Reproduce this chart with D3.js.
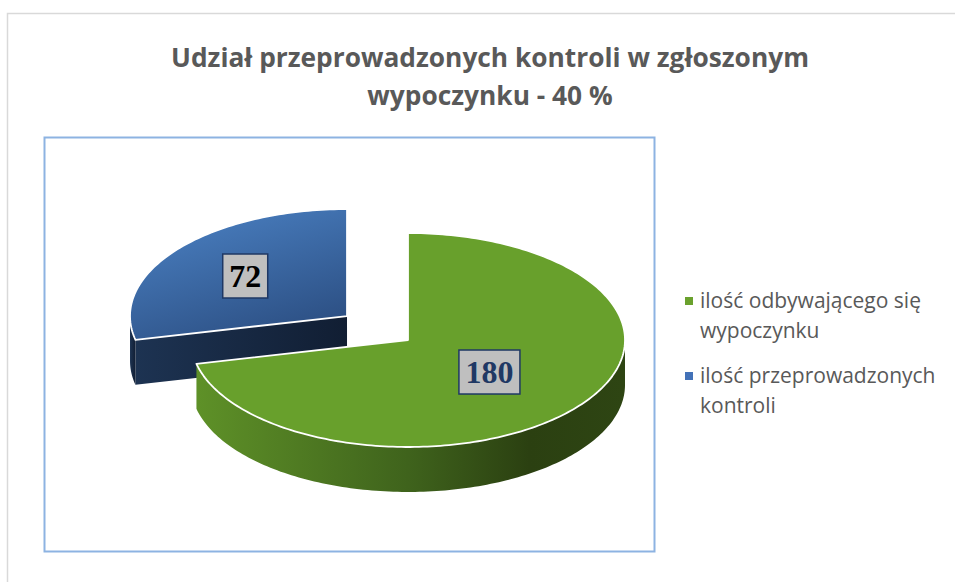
<!DOCTYPE html>
<html>
<head>
<meta charset="utf-8">
<script src="https://cdn.jsdelivr.net/npm/d3@7"></script>
<style>
  body { margin: 0; background: #fff; }
  svg { display: block; }
</style>
</head>
<body>
<svg id="drawing_region"></svg>
<script>
// data
const categories = ['ilość odbywającego się wypoczynku', 'ilość przeprowadzonych kontroli'];
const values = [180, 72];
const legendLines = [['ilość odbywającego się', 'wypoczynku'], ['ilość przeprowadzonych', 'kontroli']];
const titleLines = ['Udział przeprowadzonych kontroli w zgłoszonym', 'wypoczynku - 40 %'];

const config = {
    width: 955, height: 582,
    cx: 408, cy: 340, rx: 217, tilt: 0.493, depth: 45,
    explode: [0, 78],
    labelR: [0.48, 0.6]
};

const topColor = ['#68a02c', null];
const labelColor = ['#1f3864', '#000000'];

const svg = d3.select('#drawing_region')
    .attr('width', config.width)
    .attr('height', config.height);

const defs = svg.append('defs');

// green side gradient
const gg = defs.append('linearGradient').attr('id', 'gside0')
    .attr('gradientUnits', 'userSpaceOnUse')
    .attr('x1', config.cx - config.rx).attr('x2', config.cx + config.rx)
    .attr('y1', 0).attr('y2', 0);
[[0, '#5f9228'], [0.5, '#3f631c'], [0.78, '#2b4011'], [1, '#2e4513']]
    .forEach(s => gg.append('stop').attr('offset', s[0]).attr('stop-color', s[1]));

// blue top gradient
const bt = defs.append('linearGradient').attr('id', 'btop')
    .attr('x1', 0.2).attr('y1', 0).attr('x2', 0.7).attr('y2', 1);
[[0, '#4a80c2'], [1, '#2c4f83']]
    .forEach(s => bt.append('stop').attr('offset', s[0]).attr('stop-color', s[1]));

// blue side gradient
const bs = defs.append('linearGradient').attr('id', 'gside1')
    .attr('x1', 0).attr('y1', 0).attr('x2', 1).attr('y2', 0);
[[0, '#1d3352'], [1, '#111e33']]
    .forEach(s => bs.append('stop').attr('offset', s[0]).attr('stop-color', s[1]));

// outer chart frame
svg.append('path')
    .attr('d', `M7.5,${config.height} V13.5 H${config.width}`)
    .attr('fill', 'none')
    .attr('stroke', '#d9d9d9')
    .attr('stroke-width', 1.5);

// plot area frame
svg.append('rect')
    .attr('x', 44.5).attr('y', 137.5)
    .attr('width', 610).attr('height', 414)
    .attr('fill', 'none')
    .attr('stroke', '#8db3e2')
    .attr('stroke-width', 2);

// title
svg.append('g').selectAll('text')
    .data(titleLines)
    .join('text')
    .attr('x', 490)
    .attr('y', (d, i) => 67 + i * 38)
    .attr('text-anchor', 'middle')
    .attr('font-family', '"Open Sans", sans-serif')
    .attr('font-weight', 'bold')
    .attr('font-size', 26.3)
    .attr('fill', '#595959')
    .text(d => d);

// pie
const pie = d3.pie().sort(null).value(d => d)(values);

const rScale = d3.scaleLinear().domain([0, 1]).range([0, config.rx]);

function point(a, r, ox, oy, dz) {
    return [ox + r * Math.sin(a), oy - r * Math.cos(a) * config.tilt + dz];
}

function arcPoints(a0, a1, r, ox, oy, dz) {
    const n = Math.max(2, Math.ceil((a1 - a0) / 0.02));
    return d3.range(n + 1).map(i => point(a0 + (a1 - a0) * i / n, r, ox, oy, dz));
}

const line = d3.line();

const slices = pie.map((p, i) => {
    const mid = (p.startAngle + p.endAngle) / 2;
    const e = config.explode[i];
    const ox = config.cx + e * Math.sin(mid);
    const oy = config.cy - e * Math.cos(mid) * config.tilt;
    return { p, i, mid, ox, oy };
}).sort((a, b) => a.oy - b.oy);

const pieG = svg.append('g');
const R = rScale(1);

slices.forEach(s => {
    const { p, i, ox, oy } = s;
    const a0 = p.startAngle, a1 = p.endAngle;
    const g = pieG.append('g');
    const sideFill = `url(#gside${i})`;

    // radial face at start angle
    if (Math.sin(a0) < -0.01) {
        const pts = [point(a0, 0, ox, oy, 0), point(a0, R, ox, oy, 0),
                     point(a0, R, ox, oy, config.depth), point(a0, 0, ox, oy, config.depth)];
        g.append('path').attr('d', line(pts) + 'Z').attr('fill', sideFill);
    }
    // radial face at end angle
    if (Math.sin(a1) > 0.01) {
        const pts = [point(a1, 0, ox, oy, 0), point(a1, R, ox, oy, 0),
                     point(a1, R, ox, oy, config.depth), point(a1, 0, ox, oy, config.depth)];
        g.append('path').attr('d', line(pts) + 'Z').attr('fill', sideFill);
    }
    // outer wall (front half only)
    const w0 = Math.max(a0, Math.PI / 2), w1 = Math.min(a1, 3 * Math.PI / 2);
    if (w1 > w0) {
        const pts = arcPoints(w0, w1, R, ox, oy, 0)
            .concat(arcPoints(w0, w1, R, ox, oy, config.depth).reverse());
        g.append('path').attr('d', line(pts) + 'Z').attr('fill', sideFill);
    }
    // top face
    const top = [point(0, 0, ox, oy, 0)].concat(arcPoints(a0, a1, R, ox, oy, 0));
    g.append('path')
        .attr('d', line(top) + 'Z')
        .attr('fill', topColor[i] || 'url(#btop)')
        .attr('stroke', '#ffffff')
        .attr('stroke-width', 1.8)
        .attr('stroke-linejoin', 'round');
});

// data labels
slices.forEach(s => {
    const { p, i, mid, ox, oy } = s;
    const [lx, ly] = point(mid, rScale(config.labelR[i]), ox, oy, 0);
    const txt = String(values[i]);
    const w = txt.length * 16 + 13, h = 44;
    const g = pieG.append('g');
    g.append('rect')
        .attr('x', lx - w / 2).attr('y', ly - h / 2)
        .attr('width', w).attr('height', h)
        .attr('fill', '#bfbfbf')
        .attr('stroke', '#1f3864')
        .attr('stroke-width', 1.5);
    g.append('text')
        .attr('x', lx).attr('y', ly + 11)
        .attr('text-anchor', 'middle')
        .attr('font-family', '"Liberation Serif", "Times New Roman", serif')
        .attr('font-weight', 'bold')
        .attr('font-size', 32)
        .attr('fill', labelColor[i])
        .text(txt);
});

// legend
const legendColor = ['#6aa12d', '#4372b8'];
const legend = svg.append('g');
legendLines.forEach((lines, i) => {
    const y0 = 301 + i * 75;
    legend.append('rect')
        .attr('x', 685).attr('y', y0 - 4)
        .attr('width', 8).attr('height', 8)
        .attr('fill', legendColor[i]);
    legend.append('text')
        .attr('font-family', '"Open Sans", sans-serif')
        .attr('font-size', 21)
        .attr('fill', '#595959')
        .selectAll('tspan')
        .data(lines)
        .join('tspan')
        .attr('x', 700)
        .attr('y', (d, j) => y0 + 7 + j * 30)
        .text(d => d);
});
</script>
</body>
</html>
